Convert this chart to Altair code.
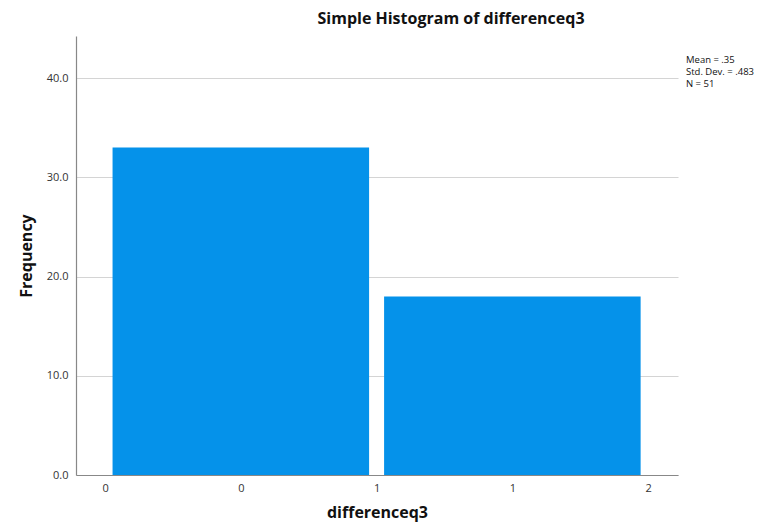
import altair as alt
import pandas as pd

bin_start = [0, 1]
bin_end = [1, 2]
frequency = [33, 18]
x_ticks = [0, 0.5, 1, 1.5, 2]
y_ticks = [0, 10, 20, 30, 40]
stats_lines = ["Mean = .35", "Std. Dev. = .483", "N = 51"]

df = pd.DataFrame({"start": bin_start, "end": bin_end, "freq": frequency})

FONT = "Open Sans"

bars = alt.Chart(df).mark_bar(color="#0592EA", xOffset=7.5, x2Offset=-7.5).encode(
    x=alt.X(
        "start:Q",
        scale=alt.Scale(domain=[-0.107, 2.11], nice=False, zero=False),
        axis=alt.Axis(
            values=x_ticks,
            labelExpr="floor(datum.value)",
            title="differenceq3",
            grid=False,
            ticks=False,
            labelPadding=7,
            titlePadding=11,
        ),
    ),
    x2="end:Q",
    y=alt.Y(
        "freq:Q",
        scale=alt.Scale(domain=[0, 44.25], nice=False),
        axis=alt.Axis(
            values=y_ticks,
            format=".1f",
            title="Frequency",
            grid=True,
            ticks=False,
            labelPadding=8,
            titlePadding=12,
        ),
    ),
    y2=alt.datum(0),
)

stats = alt.Chart(pd.DataFrame({"k": [0]})).mark_text(
    text=stats_lines,
    align="left",
    baseline="top",
    fontSize=9.5,
    lineHeight=12,
    font=FONT,
    color="#111111",
).encode(x=alt.value(610), y=alt.value(19))

chart = (
    alt.layer(bars, stats)
    .properties(
        width=602,
        height=439,
        autosize=alt.AutoSizeParams(type="none"),
        padding={"left": 68, "top": 28, "right": 92, "bottom": 48},
        title=alt.TitleParams(
            "Simple Histogram of differenceq3",
            anchor="middle",
            dx=74,
            offset=9,
            fontSize=16,
            fontWeight="bold",
            font=FONT,
            color="#111111",
        ),
    )
    .configure_view(stroke=None)
    .configure_axis(
        domainColor="#888888",
        domainWidth=1.2,
        gridColor="#d4d4d4",
        gridWidth=1.2,
        labelFont=FONT,
        labelFontSize=11,
        labelColor="#333333",
        titleFont=FONT,
        titleFontSize=16,
        titleFontWeight="bold",
        titleColor="#111111",
    )
)

chart.save("out.html", embed_options={"renderer": "svg", "actions": False})
